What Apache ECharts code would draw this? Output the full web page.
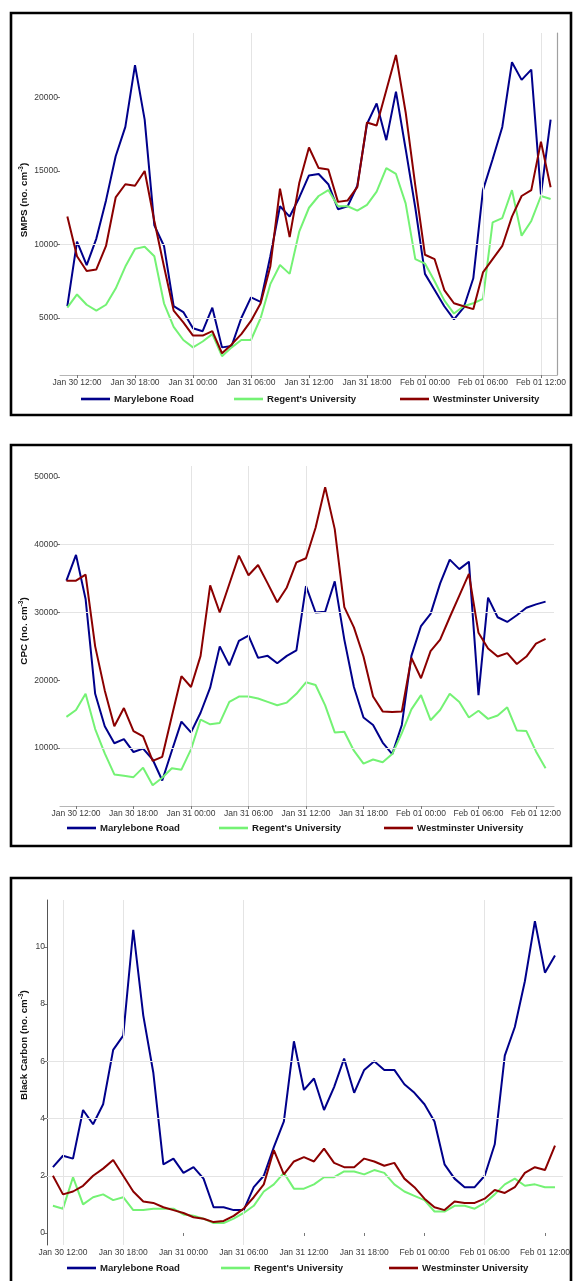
<!DOCTYPE html>
<html>
<head>
<meta charset="utf-8">
<script src="https://cdn.jsdelivr.net/npm/echarts@6/dist/echarts.min.js"></script>
<style>
  html, body { margin: 0; padding: 0; background: #fff; }
  #chart { width: 573px; height: 1281px; }
</style>
</head>
<body>
<div id="chart"></div>
<script>
// Hourly measurement times, in hours since Jan 30 00:00 (Jan 30 11:00 .. Feb 01 13:00)
const hours = [11,12,13,14,15,16,17,18,19,20,21,22,23,24,25,26,27,28,29,30,31,32,33,34,35,36,37,38,39,40,
               41,42,43,44,45,46,47,48,49,50,51,52,53,54,55,56,57,58,59,60,61];

// Axis tick positions (hours) and their labels
const tickHours = [12, 18, 24, 30, 36, 42, 48, 54, 60];
const tickLabels = ['Jan 30 12:00', 'Jan 30 18:00', 'Jan 31 00:00', 'Jan 31 06:00', 'Jan 31 12:00',
                    'Jan 31 18:00', 'Feb 01 00:00', 'Feb 01 06:00', 'Feb 01 12:00'];

const siteNames = ['Marylebone Road', "Regent's University", 'Westminster University'];

// SMPS particle number concentration (no. cm-3)
const smpsMarylebone = [5800,10200,8600,10400,13000,16000,18000,22200,18500,11300,9900,5800,5400,4300,4100,5700,3000,3100,5000,6400,
                        6100,9200,12600,11900,13200,14700,14800,14100,12400,12600,14000,18200,19600,17100,20400,16500,12500,8000,6900,5800,
                        4900,5700,7700,13700,15800,18000,22400,21200,21900,13400,18500];
const smpsRegents    = [5700,6600,5900,5500,5900,7000,8500,9700,9850,9200,6000,4400,3500,3000,3400,3900,2400,3000,3500,3500,
                        5000,7300,8600,8000,10900,12500,13300,13700,12600,12600,12300,12700,13600,15200,14800,12800,9000,8700,7500,6200,
                        5300,5800,6000,6300,11500,11800,13700,10600,11600,13300,13100];
const smpsWestminster= [11900,9200,8200,8300,9900,13200,14100,14000,15000,11600,8500,5500,4700,3800,3800,4100,2600,3200,3900,4800,
                        6000,8500,13800,10500,14200,16600,15200,15100,12900,13000,13900,18300,18100,20500,22900,19000,14000,9300,9000,6900,
                        6000,5800,5600,8100,9000,9900,11900,13300,13700,17000,13900];

// CPC particle number concentration (no. cm-3)
const cpcMarylebone  = [34700,38500,32000,18000,13200,10700,11300,9400,9900,8300,5200,9600,13900,12300,15200,18900,25000,22200,25800,26600,
                        23300,23600,22500,23600,24400,33900,30000,30100,34600,26000,19000,14500,13400,10800,9100,13400,23600,28000,29800,34300,
                        37800,36400,37500,17800,32200,29300,28600,29600,30700,31200,31600];
const cpcRegents     = [14600,15600,18000,12800,9200,6100,5900,5700,7100,4500,5600,7000,6800,9800,14200,13500,13700,16800,17600,17600,
                        17300,16800,16300,16700,18000,19700,19300,16300,12300,12400,9600,7700,8300,7900,9100,12200,15700,17800,14100,15600,
                        18000,16800,14500,15500,14300,14800,16000,12600,12500,9500,7000];
const cpcWestminster = [34700,34700,35600,25000,18500,13200,15900,12500,11700,8100,8700,14700,20600,19000,23600,34000,30000,34200,38400,35500,
                        37000,34300,31500,33700,37400,38000,42500,48500,42300,30800,27800,23500,17600,15400,15300,15400,23300,20300,24300,26000,
                        29300,32500,35700,27000,24700,23500,24000,22400,23500,25400,26100];

// Black carbon
const bcMarylebone   = [2.3,2.7,2.6,4.3,3.8,4.5,6.4,6.9,10.6,7.6,5.6,2.4,2.6,2.1,2.3,1.9,0.9,0.9,0.8,0.8,
                        1.6,2.0,3.0,3.9,6.7,5.0,5.4,4.3,5.1,6.1,4.9,5.7,6.0,5.7,5.7,5.2,4.9,4.5,3.9,2.4,
                        1.9,1.6,1.6,2.0,3.1,6.2,7.2,8.8,10.9,9.1,9.7];
const bcRegents      = [0.95,0.85,1.95,1.0,1.25,1.35,1.15,1.25,0.8,0.8,0.85,0.85,0.85,0.65,0.6,0.5,0.35,0.35,0.5,0.7,
                        0.95,1.45,1.7,2.1,1.55,1.55,1.7,1.95,1.95,2.15,2.15,2.05,2.2,2.1,1.7,1.45,1.3,1.15,0.75,0.75,
                        0.95,0.95,0.85,1.05,1.35,1.7,1.9,1.65,1.7,1.6,1.6];
const bcWestminster  = [2.0,1.35,1.45,1.65,2.0,2.25,2.55,2.0,1.45,1.1,1.05,0.9,0.8,0.7,0.55,0.5,0.38,0.42,0.6,0.85,
                        1.25,1.7,2.9,2.05,2.5,2.65,2.5,2.95,2.45,2.3,2.3,2.6,2.5,2.35,2.45,1.9,1.6,1.2,0.9,0.8,
                        1.1,1.05,1.05,1.2,1.5,1.4,1.6,2.1,2.3,2.2,3.05];

// Y-axis tick values of each panel
const smpsTicks = [5000, 10000, 15000, 20000];
const cpcTicks  = [10000, 20000, 30000, 40000, 50000];
const bcTicks   = [0, 2, 4, 6, 8, 10];

// Faint grid lines that show in each panel
const smpsGridX = [24, 30, 54, 60], smpsGridY = [5000, 10000];
const cpcGridX  = [24, 30, 36],     cpcGridY  = [10000, 30000, 40000];
const bcGridX   = [12, 18, 30, 54], bcGridY   = [2, 4, 6];

const colors = ['#00008b', '#74f274', '#8b0000'];
const FONT = '"Liberation Sans", Arial, sans-serif';

const panels = [
  { title: 'SMPS', values: [smpsMarylebone, smpsRegents, smpsWestminster], ticks: smpsTicks, gridX: smpsGridX, gridY: smpsGridY,
    grid: { left: 60, top: 33, width: 497, height: 342 }, xMin: 10.24, xMax: 61.66, yMin: 1120, yMax: 24390,
    xLine: true, rightLine: true, leftLine: false, titleY: 200, legendY: 400, legendX: [81, 234, 400] },
  { title: 'CPC', values: [cpcMarylebone, cpcRegents, cpcWestminster], ticks: cpcTicks, gridX: cpcGridX, gridY: cpcGridY,
    grid: { left: 60, top: 466, width: 494, height: 340 }, xMin: 10.33, xMax: 61.88, yMin: 1440, yMax: 51620,
    xLine: true, rightLine: false, leftLine: false, titleY: 631, legendY: 829, legendX: [67, 219, 384] },
  { title: 'Black Carbon', values: [bcMarylebone, bcRegents, bcWestminster], ticks: bcTicks, gridX: bcGridX, gridY: bcGridY,
    grid: { left: 47, top: 900, width: 517, height: 345 }, xMin: 10.41, xMax: 61.79, yMin: -0.42, yMax: 11.64,
    xLine: false, rightLine: false, leftLine: true, titleY: 1045, legendY: 1269, legendX: [67, 221, 389] }
];

const grids = [], xAxes = [], yAxes = [], series = [], legends = [], graphics = [];
const tickLabel = v => { const k = tickHours.indexOf(v); return k >= 0 ? tickLabels[k] : ''; };

panels.forEach((p, pi) => {
  grids.push(p.grid);
  xAxes.push({
    type: 'value', gridIndex: pi, min: p.xMin, max: p.xMax,
    axisLine: { show: p.xLine, lineStyle: { color: '#b5b5b5', width: 1 } },
    axisTick: { show: true, customValues: tickHours, length: 3, lineStyle: { color: '#777' } },
    axisLabel: { customValues: tickHours, formatter: tickLabel, fontFamily: FONT, fontSize: 8.5, color: '#3a3a3a', margin: 3 },
    splitLine: { show: false }
  });
  yAxes.push({
    type: 'value', gridIndex: pi, min: p.yMin, max: p.yMax,
    axisLine: { show: p.leftLine, lineStyle: { color: '#555', width: 1 } },
    axisTick: { show: true, customValues: p.ticks, length: 3, lineStyle: { color: '#777' } },
    axisLabel: { customValues: p.ticks, formatter: v => String(v), fontFamily: FONT, fontSize: 8.5, color: '#3a3a3a', margin: 2 },
    splitLine: { show: false }
  });
  yAxes.push({
    type: 'value', gridIndex: pi, min: p.yMin, max: p.yMax, position: 'right',
    axisLine: { show: p.rightLine, onZero: false, lineStyle: { color: '#a0a0a0', width: 1.2 } },
    axisTick: { show: false }, axisLabel: { show: false }, splitLine: { show: false }
  });
  p.values.forEach((vals, si) => {
    const s = {
      type: 'line', name: siteNames[si], xAxisIndex: pi, yAxisIndex: pi * 2,
      data: hours.map((h, i) => [h, vals[i]]),
      showSymbol: false, symbol: 'none',
      lineStyle: { color: colors[si], width: 2 }, itemStyle: { color: colors[si] },
      animation: false, z: 3 + si
    };
    if (si === 0) {
      s.markLine = {
        silent: true, symbol: 'none', animation: false, label: { show: false },
        lineStyle: { color: '#e4e4e4', width: 1, type: 'solid' },
        data: p.gridX.map(v => ({ xAxis: v })).concat(p.gridY.map(v => ({ yAxis: v })))
      };
    }
    series.push(s);
    legends.push({
      data: [siteNames[si]], left: p.legendX[si], top: p.legendY - 6, padding: 0,
      icon: 'rect', itemWidth: 29, itemHeight: 2.6, itemGap: 0, selectedMode: false,
      textStyle: { fontFamily: FONT, fontSize: 9.6, fontWeight: 'bold', color: '#1a1a1a', padding: [0, 0, 0, -1] }
    });
  });
  // rotated y-axis title with superscript unit
  graphics.push({
    type: 'text', x: 24, y: p.titleY, rotation: Math.PI / 2,
    style: {
      text: '{t|' + p.title + ' (no. cm}{s|-3}{t|)}',
      align: 'center', verticalAlign: 'middle',
      rich: {
        t: { fontFamily: FONT, fontSize: 9.8, fontWeight: 'bold', fill: '#111', lineHeight: 13 },
        s: { fontFamily: FONT, fontSize: 6.5, fontWeight: 'bold', fill: '#111', verticalAlign: 'top', lineHeight: 13 }
      }
    }
  });
});

// panel frames
[[11, 13, 560, 402], [11, 445, 560, 401], [11, 878, 560, 406]].forEach(r => {
  graphics.push({ type: 'rect', shape: { x: r[0], y: r[1], width: r[2], height: r[3] },
                  style: { fill: 'none', stroke: '#000', lineWidth: 2.6 }, z: 10 });
});

const chart = echarts.init(document.getElementById('chart'), null, { renderer: 'canvas' });
chart.setOption({
  backgroundColor: '#fff',
  animation: false,
  grid: grids, xAxis: xAxes, yAxis: yAxes, series: series, legend: legends,
  graphic: graphics
});
</script>
</body>
</html>
